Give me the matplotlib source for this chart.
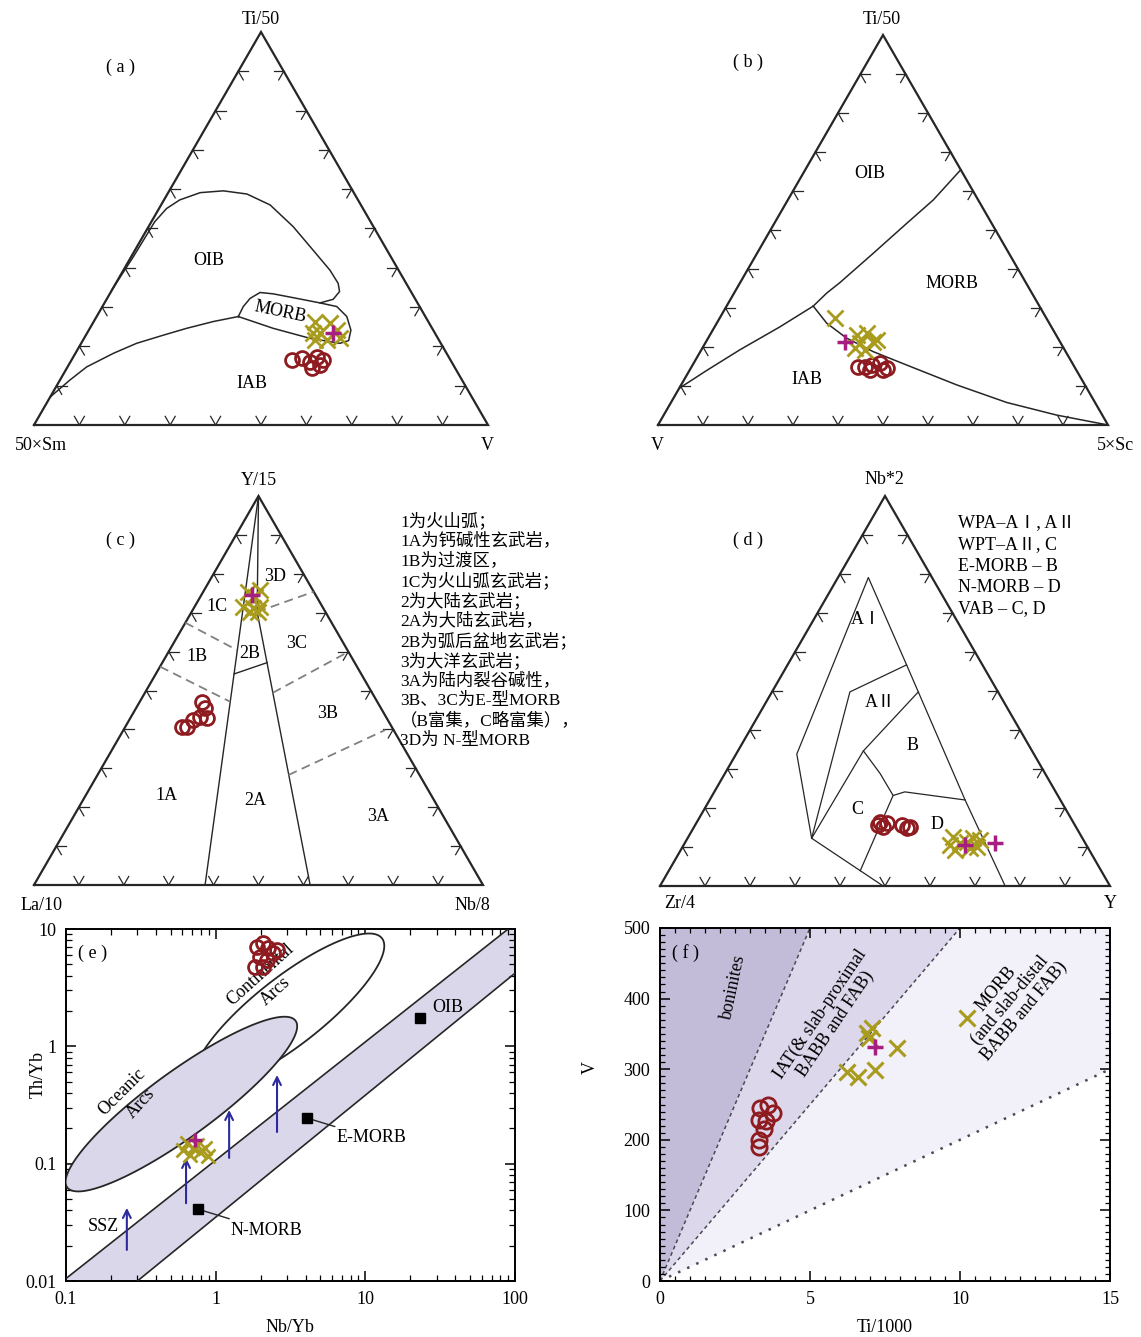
import numpy as np
import matplotlib.pyplot as plt
from matplotlib.ticker import LogLocator, NullFormatter, MultipleLocator

plt.rcParams['font.family'] = ['Liberation Serif', 'Noto Sans CJK SC']
plt.rcParams['font.size'] = 13
plt.rcParams['axes.unicode_minus'] = False

W, H = 1141, 1337
fig = plt.figure(figsize=(W / 100, H / 100), dpi=100)

RED = '#8e1b1f'
OLIVE = '#a99b1d'
MAGENTA = '#a61e80'
INK = '#262626'
GREY = '#808080'
LAV = '#dbd7ea'
H3 = np.sqrt(3) / 2 * 100   # triangle height in diagram units

# ---------------- samples, ternary panels: (top, left, right) in % ----------------
# (a) Ti/50 - 50xSm - V
a_circle = [(16.5, 34.9, 48.6), (17.1, 32.5, 50.4), (16.1, 31.2, 52.7), (17.3, 29.1, 53.6),
            (15.2, 29.4, 55.4), (14.5, 31.5, 54.0), (16.5, 28.1, 55.4)]
a_cross = [(26.2, 25.0, 48.8), (26.0, 21.8, 52.2), (23.4, 26.8, 49.8), (23.4, 25.3, 51.3),
           (24.1, 21.3, 54.6), (21.6, 27.3, 51.1), (21.6, 24.7, 53.7), (22.2, 21.5, 56.3)]
a_plus = [(23.4, 22.4, 54.2)]

# (b) Ti/50 - V - 5xSc
b_circle = [(14.9, 48.1, 37.0), (14.9, 46.5, 38.6), (15.4, 44.7, 39.9), (15.9, 42.7, 41.4),
            (14.7, 41.7, 43.6), (14.1, 45.9, 40.0), (14.1, 42.9, 43.0)]
b_cross = [(27.5, 46.9, 25.6), (23.1, 44.3, 32.6), (23.6, 41.8, 34.6), (21.2, 41.6, 37.2),
           (21.0, 44.6, 34.4), (19.3, 44.3, 36.4), (19.7, 46.3, 34.0), (21.8, 40.4, 37.8)]
b_plus = [(21.2, 47.8, 31.0)]

# (c) Y/15 - La/10 - Nb/8
c_circle = [(47.1, 39.0, 13.9), (45.5, 39.1, 15.4), (43.2, 41.4, 15.4), (42.4, 43.4, 14.2),
            (40.6, 45.6, 13.8), (40.6, 46.7, 12.7), (43.0, 40.0, 17.0)]
c_cross = [(75.4, 14.6, 10.0), (75.9, 11.7, 12.4), (74.0, 13.8, 12.2), (71.5, 17.7, 10.8),
           (71.2, 15.6, 13.2), (71.5, 13.9, 14.6), (70.2, 16.8, 13.0), (70.2, 15.0, 14.8)]
c_plus = [(74.6, 14.1, 11.3)]

# (d) Nb*2 - Zr/4 - Y
d_circle = [(16.4, 42.9, 40.7), (16.2, 41.5, 42.3), (15.1, 42.9, 42.0), (15.7, 38.3, 46.0),
            (15.1, 36.9, 48.0), (14.9, 37.7, 47.4), (15.7, 43.7, 40.6)]
d_cross = [(12.6, 28.6, 58.8), (10.5, 30.3, 59.2), (11.1, 27.7, 61.2), (9.2, 29.8, 61.0),
           (11.3, 26.1, 62.6), (12.4, 24.2, 63.4), (11.8, 23.0, 65.2), (10.0, 24.6, 65.4),
           (9.7, 26.3, 64.0)]
d_plus = [(10.5, 26.9, 62.6), (11.1, 20.1, 68.8)]

# ---------------- field boundaries, diagram units (x 0-100 along base, y up) ----------------
a_oib_x = [17.1, 21.9, 26.6, 29.2, 32.1, 36.6, 41.7, 46.9, 52.0, 57.1, 61.5, 65.2, 67.0, 67.3, 65.9, 63.0]
a_oib_y = [29.7, 37.1, 44.8, 47.7, 49.6, 51.2, 51.6, 50.9, 48.5, 43.7, 38.5, 34.1, 31.2, 29.4, 27.7, 26.9]
a_morb_x = [45.0, 46.1, 47.6, 49.8, 52.7, 57.9, 63.0, 66.7, 68.9, 69.8, 69.3, 67.4, 60.8, 52.7, 45.0]
a_morb_y = [23.9, 26.1, 27.9, 29.2, 28.9, 27.9, 26.9, 26.1, 23.9, 20.9, 18.6, 18.0, 19.1, 21.3, 23.9]
a_iab_x = [3.6, 7.9, 11.6, 17.5, 22.6, 28.5, 33.6, 39.5, 45.0]
a_iab_y = [6.2, 9.9, 12.8, 15.8, 18.0, 19.8, 21.3, 22.8, 23.9]

b_left_x = [4.7, 10.8, 18.2, 27.1, 34.5]
b_left_y = [8.15, 12.1, 16.7, 21.8, 26.4]
b_upper_x = [34.5, 37.5, 40.4, 47.8, 55.3, 61.2, 67.3]
b_upper_y = [26.4, 29.3, 31.6, 38.1, 44.8, 50.0, 56.7]
b_lower_x = [34.5, 37.5, 41.9, 47.8, 55.3, 66.4, 77.5, 88.6, 100.0]
b_lower_y = [26.4, 22.6, 19.3, 16.3, 13.3, 8.9, 5.0, 2.2, 0.0]

c_solid = [([50.0, 38.1], [H3, 0.0]),
           ([50.0, 49.7, 61.5], [H3, 60.8, 0.0]),
           ([44.6, 51.9], [47.0, 49.5])]
c_dashed = [([33.7, 45.2], [58.4, 52.3]),
            ([28.1, 43.7], [48.6, 40.8]),
            ([49.7, 62.3], [60.8, 65.3]),
            ([53.2, 70.0], [42.8, 51.9]),
            ([56.7, 78.2], [24.5, 34.5])]

d_lines = [([76.7, 67.8, 57.4, 54.8, 46.3, 30.4, 33.7, 49.6], [0.0, 19.1, 43.1, 49.1, 68.5, 29.3, 10.6, 0.0]),
           ([54.8, 42.2, 33.7], [49.1, 43.1, 10.6]),
           ([57.4, 45.2, 33.7], [43.1, 30.0, 10.6]),
           ([45.2, 48.9, 51.8, 54.4, 67.8], [30.0, 25.0, 20.1, 20.9, 19.1]),
           ([51.8, 44.5], [20.1, 3.4])]

c_notes = ['1为火山弧；', '1A为钙碱性玄武岩，', '1B为过渡区，', '1C为火山弧玄武岩；',
           '2为大陆玄武岩；', '2A为大陆玄武岩，', '2B为弧后盆地玄武岩；', '3为大洋玄武岩；',
           '3A为陆内裂谷碱性，', '3B、3C为E-型MORB', '（B富集，C略富集），', '3D为 N-型MORB']
d_notes = ['WPA–AⅠ, AⅡ', 'WPT–AⅡ, C', 'E-MORB – B', 'N-MORB – D', 'VAB – C, D']

# ---------------- (e) Nb/Yb vs Th/Yb ----------------
e_circle_nb = [1.89, 2.07, 2.24, 1.98, 2.20, 2.42, 1.83, 2.07, 2.57]
e_circle_th = [7.03, 7.62, 6.90, 5.78, 5.45, 6.25, 4.75, 4.75, 6.64]
e_cross_nb = [0.643, 0.705, 0.785, 0.673, 0.849, 0.750, 0.605, 0.890]
e_cross_th = [0.150, 0.136, 0.126, 0.119, 0.136, 0.144, 0.131, 0.116]
e_plus_nb = [0.728]
e_plus_th = [0.159]
ref_names = ['N-MORB', 'E-MORB', 'OIB']
ref_nb = [0.76, 4.07, 23.2]
ref_th = [0.041, 0.245, 1.75]
array_upper = ([0.1, 90.0], [0.0105, 10.0])
array_lower = ([0.3, 100.0], [0.01, 4.2])
arrow_nb = [0.255, 0.634, 1.23, 2.57]
arrow_th0 = [0.0184, 0.046, 0.112, 0.186]
arrow_th1 = [0.042, 0.112, 0.287, 0.57]
# ellipse fields: centre, half major / half minor vectors in decades
ocean_arc = ((0.590, 0.322), (0.763, 0.710), (-0.128, 0.224))
cont_arc = ((3.09, 2.00), (0.621, 0.620), (-0.140, 0.228))

# ---------------- (f) Ti/1000 vs V ----------------
f_circle_ti = [3.34, 3.59, 3.78, 3.31, 3.54, 3.47, 3.31, 3.30]
f_circle_v = [245, 250, 238, 228, 226, 215, 200, 190]
f_cross_ti = [6.89, 7.06, 6.95, 7.89, 6.23, 6.61, 7.17, 10.23]
f_cross_v = [351, 358, 344, 330, 296, 289, 299, 372]
f_plus_ti = [7.17]
f_plus_v = [332]
ti_v_ratios = [10, 20, 50]


def px_axes(l, t, r, b):
    return fig.add_axes([l / W, 1 - b / H, (r - l) / W, (b - t) / H])


def ptext(x, y, s, **kw):
    kw.setdefault('ha', 'center')
    kw.setdefault('va', 'center')
    fig.text(x / W, 1 - y / H, s, **kw)


def tern_xy(pts):
    p = np.asarray(pts, float)
    s = p.sum(axis=1)
    return (p[:, 2] + p[:, 0] / 2) / s * 100, p[:, 0] / s * H3


def triangle(ax):
    ax.plot([0, 100, 50, 0], [0, 0, H3, 0], color=INK, lw=1.6, clip_on=False,
            solid_joinstyle='miter')
    c, s = 0.5, np.sqrt(3) / 2
    L = 2.2
    for f in range(10, 100, 10):
        for (x0, y0), dirs in (((f, 0), [(-c, s), (c, s)]),
                               ((f / 2, f * s), [(1, 0), (c, -s)]),
                               ((100 - f / 2, f * s), [(-1, 0), (-c, -s)])):
            for dx, dy in dirs:
                ax.plot([x0, x0 + L * dx], [y0, y0 + L * dy], color=INK, lw=0.9)
    ax.set_xlim(0, 100)
    ax.set_ylim(0, H3)
    ax.axis('off')


def samples(ax, circle, cross, plus):
    x, y = tern_xy(circle)
    ax.plot(x, y, 'o', mfc='none', mec=RED, mew=2, ms=10, ls='none', zorder=4, clip_on=False)
    x, y = tern_xy(cross)
    ax.plot(x, y, 'x', color=OLIVE, mew=2, ms=11, ls='none', zorder=5, clip_on=False)
    x, y = tern_xy(plus)
    ax.plot(x, y, '+', color=MAGENTA, mew=2.5, ms=11, ls='none', zorder=6, clip_on=False)


# ======================= (a) =======================
ax = px_axes(34, 32, 488, 425)
triangle(ax)
ax.plot(a_oib_x, a_oib_y, color=INK, lw=1.1)
ax.plot(a_morb_x, a_morb_y, color=INK, lw=1.1)
ax.plot(a_iab_x, a_iab_y, color=INK, lw=1.1)
ax.text(38.4, 36.3, 'OIB', ha='center', va='center')
ax.text(54.2, 24.8, 'MORB', ha='center', va='center', rotation=-12)
ax.text(47.9, 9.2, 'IAB', ha='center', va='center')
samples(ax, a_circle, a_cross, a_plus)
ptext(261, 20, 'Ti/50')
ptext(41, 446, '50×Sm')
ptext(487, 446, 'V')
ptext(121, 67, '( a )')

# ======================= (b) =======================
ax = px_axes(658, 35, 1108, 425)
triangle(ax)
for xs, ys in ((b_left_x, b_left_y), (b_upper_x, b_upper_y), (b_lower_x, b_lower_y)):
    ax.plot(xs, ys, color=INK, lw=1.1)
ax.text(47.1, 55.9, 'OIB', ha='center', va='center')
ax.text(65.3, 31.5, 'MORB', ha='center', va='center')
ax.text(33.0, 10.0, 'IAB', ha='center', va='center')
samples(ax, b_circle, b_cross, b_plus)
ptext(882, 20, 'Ti/50')
ptext(657, 446, 'V')
ptext(1116, 446, '5×Sc')
ptext(748, 62, '( b )')

# ======================= (c) =======================
ax = px_axes(34, 496, 483, 885)
triangle(ax)
for xs, ys in c_solid:
    ax.plot(xs, ys, color=INK, lw=1.0)
for xs, ys in c_dashed:
    ax.plot(xs, ys, color=GREY, lw=1.3, ls=(0, (5, 3)))
for lab, x, y in (('1A', 29.5, 20.0), ('2A', 49.2, 18.9), ('3A', 76.7, 15.2), ('1B', 36.2, 50.8),
                  ('2B', 48.1, 51.6), ('3C', 58.5, 53.8), ('3B', 65.5, 38.2), ('1C', 40.7, 62.1),
                  ('3D', 53.7, 68.7)):
    ax.text(x, y, lab, ha='center', va='center')
samples(ax, c_circle, c_cross, c_plus)
ptext(259, 481, 'Y/15')
ptext(42, 905, 'La/10')
ptext(472, 905, 'Nb/8')
ptext(121, 540, '( c )')
for i, line in enumerate(c_notes):
    ptext(400, 521 + 20.0 * i, line, ha='left', fontsize=12.5)

# ======================= (d) =======================
ax = px_axes(660, 496, 1110, 886)
triangle(ax)
for xs, ys in d_lines:
    ax.plot(xs, ys, color=INK, lw=0.9)
for lab, x, y in (('AⅠ', 45.8, 59.1), ('AⅡ', 48.9, 40.7), ('B', 56.2, 31.3),
                  ('C', 43.8, 16.9), ('D', 61.6, 13.6)):
    ax.text(x, y, lab, ha='center', va='center')
samples(ax, d_circle, d_cross, d_plus)
ptext(884, 479, 'Nb*2')
ptext(680, 903, 'Zr/4')
ptext(1110, 903, 'Y')
ptext(748, 540, '( d )')
for i, line in enumerate(d_notes):
    ptext(958, 523 + 21.5 * i, line, ha='left', fontsize=13)


# ======================= (e) =======================
def ellipse(field, n=240):
    (cx, cy), (ax_, ay_), (bx, by) = field
    t = np.linspace(0, 2 * np.pi, n)
    lx = np.log10(cx) + ax_ * np.cos(t) + bx * np.sin(t)
    ly = np.log10(cy) + ay_ * np.cos(t) + by * np.sin(t)
    return 10 ** lx, 10 ** ly


ax = px_axes(66, 929, 515, 1281)
ax.set_xscale('log')
ax.set_yscale('log')
ax.set_xlim(0.1, 100)
ax.set_ylim(0.01, 10)
ux, uy = array_upper
lx, ly = array_lower
ax.fill([ux[0], ux[1], 100, lx[1], lx[0], 0.1], [uy[0], uy[1], 10, ly[1], ly[0], 0.01],
        color=LAV, lw=0, zorder=1)
ax.plot(ux, uy, color=INK, lw=1.2, zorder=4)
ax.plot(lx, ly, color=INK, lw=1.2, zorder=4)
x, y = ellipse(cont_arc)
ax.fill(x, y, facecolor='white', edgecolor=INK, lw=1.3, zorder=2)
x, y = ellipse(ocean_arc)
ax.fill(x, y, facecolor=LAV, edgecolor=INK, lw=1.3, zorder=3)
for nb, t0, t1 in zip(arrow_nb, arrow_th0, arrow_th1):
    ax.annotate('', xy=(nb, t1), xytext=(nb, t0), zorder=5,
                arrowprops=dict(arrowstyle='->', color='#2c2a9c', lw=1.5, mutation_scale=14,
                                shrinkA=0, shrinkB=0))
ax.plot(ref_nb, ref_th, 's', color='black', ms=7, zorder=6)
ax.annotate(ref_names[0], xy=(ref_nb[0], ref_th[0]), xytext=(1.25, 0.0272), ha='left', va='center',
            arrowprops=dict(arrowstyle='-', lw=1, color=INK, shrinkA=0, shrinkB=3))
ax.annotate(ref_names[1], xy=(ref_nb[1], ref_th[1]), xytext=(6.45, 0.166), ha='left', va='center',
            arrowprops=dict(arrowstyle='-', lw=1, color=INK, shrinkA=0, shrinkB=3))
ax.text(28, 2.15, ref_names[2], ha='left', va='center')
ax.text(0.238, 0.411, 'Oceanic', rotation=45, ha='center', va='center')
ax.text(0.316, 0.327, 'Arcs', rotation=48, ha='center', va='center')
ax.text(1.98, 4.06, 'Continental', rotation=42, ha='center', va='center')
ax.text(2.49, 2.93, 'Arcs', rotation=42, ha='center', va='center')
ax.text(0.177, 0.029, 'SSZ', ha='center', va='center')
ax.text(0.06, 0.93, '( e )', transform=ax.transAxes, ha='center', va='center')
ax.plot(e_circle_nb, e_circle_th, 'o', mfc='none', mec=RED, mew=2, ms=10, ls='none', zorder=7)
ax.plot(e_cross_nb, e_cross_th, 'x', color=OLIVE, mew=2, ms=10, ls='none', zorder=8)
ax.plot(e_plus_nb, e_plus_th, '+', color=MAGENTA, mew=2.5, ms=10, ls='none', zorder=9)
ax.set_xticks([0.1, 1, 10, 100], ['0.1', '1', '10', '100'])
ax.set_yticks([0.01, 0.1, 1, 10], ['0.01', '0.1', '1', '10'])
ax.xaxis.set_minor_locator(LogLocator(base=10, subs=np.arange(2, 10)))
ax.yaxis.set_minor_locator(LogLocator(base=10, subs=np.arange(2, 10)))
ax.xaxis.set_minor_formatter(NullFormatter())
ax.yaxis.set_minor_formatter(NullFormatter())
ax.tick_params(which='both', direction='in', top=True, right=True, labelsize=13, pad=7)
ax.tick_params(which='major', length=7, width=1.1)
ax.tick_params(which='minor', length=4, width=0.9)
for sp in ax.spines.values():
    sp.set_linewidth(1.4)
ptext(290, 1327, 'Nb/Yb')
ptext(38, 1075, 'Th/Yb', rotation=90)

# ======================= (f) =======================
ax = px_axes(660, 928, 1110, 1281)
ax.set_xlim(0, 15)
ax.set_ylim(0, 500)


def ratio_end(r):
    x_end = min(15, 500 * r / 1000)
    return x_end, 1000 * x_end / r


e10, e20, e50 = (ratio_end(r) for r in ti_v_ratios)
ax.fill([0, e10[0], 0], [0, e10[1], 500], color='#c3bcd9', lw=0, zorder=0)
ax.fill([0, e20[0], e10[0]], [0, e20[1], e10[1]], color='#dcd7eb', lw=0, zorder=0)
ax.fill([0, e50[0], 15, e20[0]], [0, e50[1], 500, e20[1]], color='#f2f0f8', lw=0, zorder=0)
styles = [(0, (2.5, 2)), (0, (2.5, 2)), (0, (1, 3))]
widths = [1.1, 1.1, 1.8]
for r, st, lw_ in zip(ti_v_ratios, styles, widths):
    xe, ve = ratio_end(r)
    ax.plot([0, xe], [0, ve], color='#4a4a55', ls=st, lw=lw_, zorder=1)
ax.text(2.45, 416, 'boninites', rotation=78, ha='center', va='center')
ax.text(5.6, 371, 'IAT(& slab-proximal\nBABB and FAB)', rotation=56, ha='center', va='center',
        multialignment='center', linespacing=1.05)
ax.text(11.67, 398, 'MORB\n(and slab-distal\nBABB and FAB)', rotation=50, ha='center', va='center',
        multialignment='center', linespacing=1.05)
ax.text(0.85, 464, '( f )', ha='center', va='center')
ax.plot(f_circle_ti, f_circle_v, 'o', mfc='none', mec=RED, mew=2, ms=11, ls='none', zorder=4)
ax.plot(f_cross_ti, f_cross_v, 'x', color=OLIVE, mew=2.2, ms=12, ls='none', zorder=5)
ax.plot(f_plus_ti, f_plus_v, '+', color=MAGENTA, mew=2.5, ms=12, ls='none', zorder=6)
ax.xaxis.set_major_locator(MultipleLocator(5))
ax.xaxis.set_minor_locator(MultipleLocator(0.5))
ax.yaxis.set_major_locator(MultipleLocator(100))
ax.yaxis.set_minor_locator(MultipleLocator(10))
ax.tick_params(which='both', direction='in', top=True, right=True, labelsize=13, pad=7)
ax.tick_params(which='major', length=7, width=1.1)
ax.tick_params(which='minor', length=3.5, width=0.9)
for sp in ax.spines.values():
    sp.set_linewidth(1.4)
ptext(885, 1327, 'Ti/1000')
ptext(590, 1068, 'V', rotation=90)

fig.savefig('out.png', dpi=100)
